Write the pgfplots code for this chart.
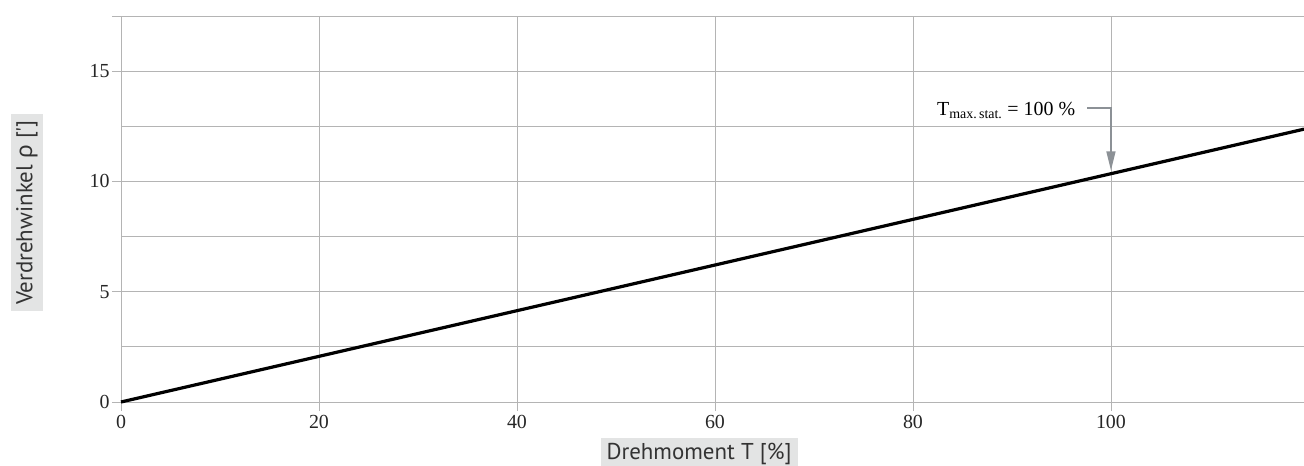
\documentclass[border=0pt]{standalone}
\usepackage{pgfplots}
\pgfplotsset{compat=1.18}
\usepackage{fontspec}
\setmainfont{Liberation Serif}
\newfontfamily\labelfont{PT Sans}
\newfontfamily\greekfont{Noto Sans}
\usetikzlibrary{arrows.meta}
\definecolor{gridgray}{HTML}{B4B4B4}
\definecolor{boxgray}{HTML}{E3E4E4}
\definecolor{arrowgray}{HTML}{8C9196}
\definecolor{labeltext}{HTML}{333333}
\begin{document}
\begin{tikzpicture}
\begin{axis}[
  at={(0,0)}, anchor=south west,
  scale only axis,
  width=1183bp, height=386bp,
  xmin=0, xmax=119.5, ymin=0, ymax=17.5,
  axis line style={draw=none},
  xtick={0,20,40,60,80,100},
  ytick={0,5,10,15,17.5},
  yticklabels={0,5,10,15,{}},
  minor ytick={2.5,7.5,12.5},
  grid=both,
  major grid style={gridgray, line width=0.9bp},
  minor grid style={gridgray, line width=0.9bp},
  tick style={gridgray, line width=0.9bp},
  major tick length=9bp,
  minor tick length=0pt,
  tick align=outside,
  xtick pos=bottom, ytick pos=left,
  /pgf/number format/assume math mode=true,
  ticklabel style={font=\fontsize{20}{22}\selectfont, text=black!85},
  xticklabel style={yshift=-1bp},
  yticklabel style={xshift=1bp},
  clip=false,
  xlabel={Drehmoment T [\%]},
  xlabel style={at={(rel axis cs:0.4886,-0.135)}, anchor=center, font=\labelfont\fontsize{23}{25}\selectfont, text=labeltext, fill=boxgray, inner xsep=6bp, inner ysep=5bp},
  ylabel={Verdrehwinkel {\greekfont ρ} [']},
  ylabel style={at={(rel axis cs:-0.0795,0.491)}, anchor=center, rotate=0, font=\labelfont\fontsize{23}{25}\selectfont, text=labeltext, fill=boxgray, inner xsep=6bp, inner ysep=5bp},
]
\addplot[black, line width=3.2bp] coordinates {(0,0) (100,10.35) (119.5,12.37)};
\draw[arrowgray, line width=1.5bp, -{Triangle[length=19bp,width=9bp]}] (axis cs:97.6,13.32) -- (axis cs:100,13.32) -- (axis cs:100,10.5);
\node[anchor=base east, inner sep=0pt, font=\fontsize{20}{22}\selectfont] at (axis cs:96.4,13.0) {T\textsubscript{max.\,stat.} = 100 \%};
\end{axis}
\pgfresetboundingbox
\path (-121bp,-64bp) rectangle (1183bp,402bp);
\end{tikzpicture}
\end{document}
